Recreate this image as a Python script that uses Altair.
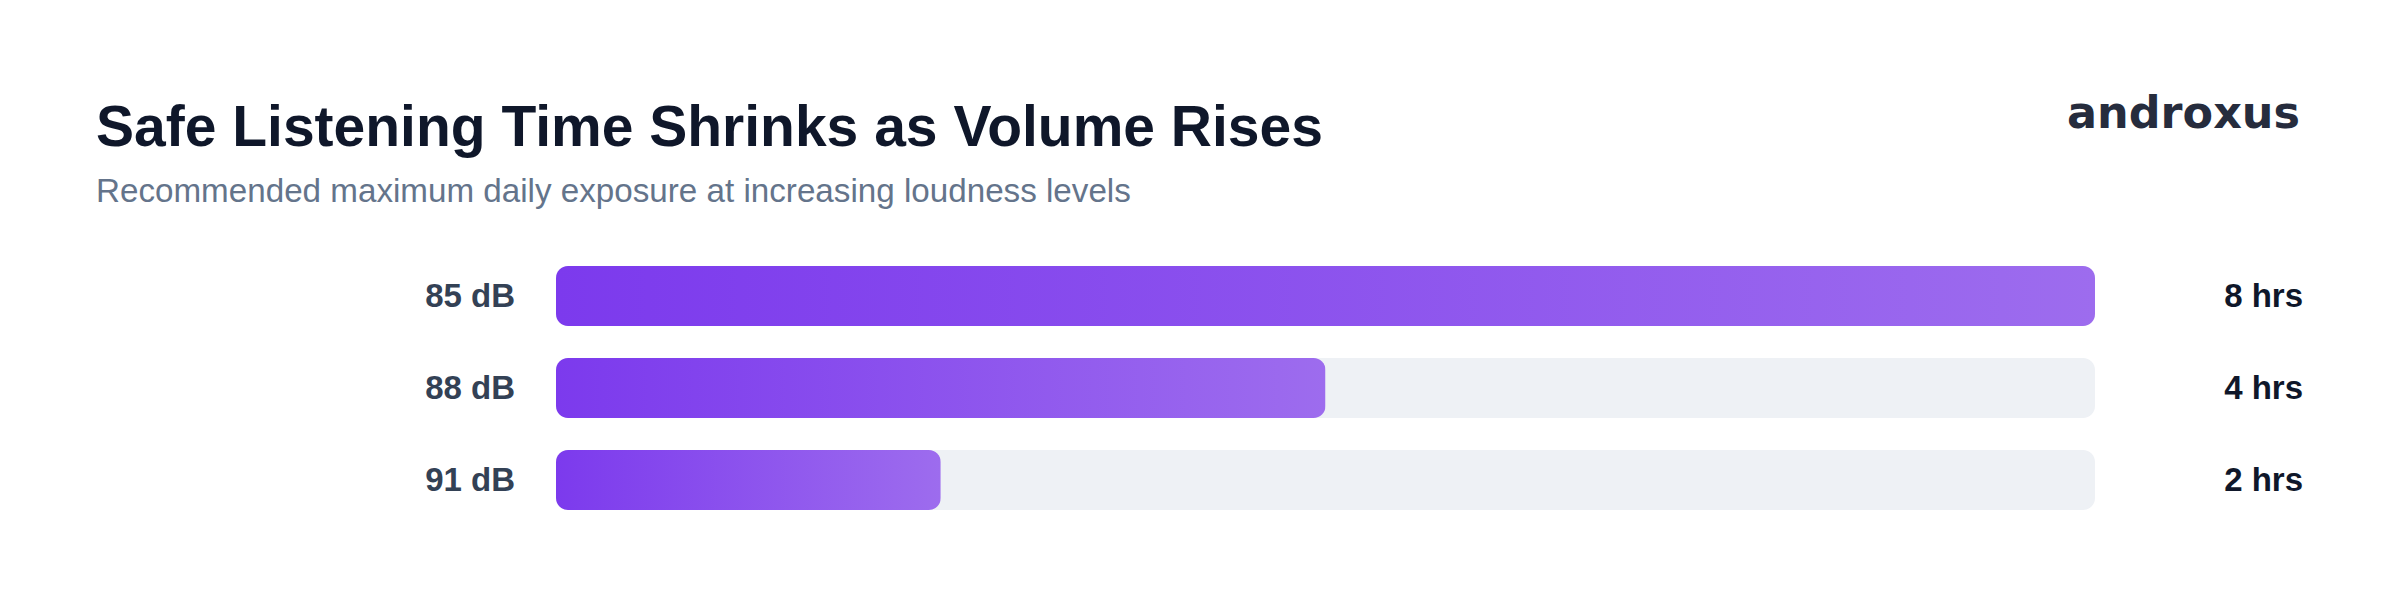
import altair as alt
import pandas as pd

# ---- data ----
levels = ["85 dB", "88 dB", "91 dB"]
hours = [8, 4, 2]
hour_labels = ["8 hrs", "4 hrs", "2 hrs"]

title_text = "Safe Listening Time Shrinks as Volume Rises"
subtitle_text = "Recommended maximum daily exposure at increasing loudness levels"
brand_text = "androxus"

df = pd.DataFrame({"level": levels, "hours": hours, "label": hour_labels})
df["track"] = max(hours)

W, H = 2400, 606
x_scale = alt.Scale(domain=[0, max(hours)], range=[556, 2095], nice=False, zero=True)
y_scale = alt.Scale(domain=levels, range=[266, 510], paddingInner=0.348, paddingOuter=0)

base = alt.Chart(df)

track = base.mark_bar(color="#eef1f5", cornerRadius=12).encode(
    x=alt.X("track:Q", scale=x_scale, axis=None),
    y=alt.Y("level:N", scale=y_scale, axis=None),
)

grad = alt.Gradient(
    gradient="linear",
    stops=[alt.GradientStop(color="#7c3aed", offset=0),
           alt.GradientStop(color="#9d6cee", offset=1)],
    x1=0, x2=1, y1=0, y2=0,
)

bars = base.mark_bar(color=grad, cornerRadius=12).encode(
    x=alt.X("hours:Q", scale=x_scale, axis=None),
    y=alt.Y("level:N", scale=y_scale, axis=None),
)

level_labels = base.mark_text(
    align="right", baseline="middle", font="Liberation Sans", fontWeight="bold",
    fontSize=33, color="#334155", dy=1,
).encode(
    x=alt.value(515),
    y=alt.Y("level:N", scale=y_scale, axis=None),
    text="level:N",
)

value_labels = base.mark_text(
    align="right", baseline="middle", font="Liberation Sans", fontWeight="bold",
    fontSize=33, color="#0f172a", dy=1,
).encode(
    x=alt.value(2303),
    y=alt.Y("level:N", scale=y_scale, axis=None),
    text="label:N",
)

one = pd.DataFrame({"t": [title_text], "s": [subtitle_text], "b": [brand_text]})

title = alt.Chart(one).mark_text(
    align="left", baseline="alphabetic", font="Liberation Sans", fontWeight="bold",
    fontSize=57, color="#0f172a",
).encode(x=alt.value(96), y=alt.value(146), text="t:N")

subtitle = alt.Chart(one).mark_text(
    align="left", baseline="alphabetic", font="Liberation Sans",
    fontSize=33.2, color="#64748b",
).encode(x=alt.value(96), y=alt.value(202), text="s:N")

brand = alt.Chart(one).mark_text(
    align="right", baseline="alphabetic", font="DejaVu Sans", fontWeight="bold",
    fontSize=44.5, color="#262c3d",
).encode(x=alt.value(2300), y=alt.value(128), text="b:N")

chart = alt.layer(track, bars, level_labels, value_labels, title, subtitle, brand).properties(
    width=W, height=H,
    autosize=alt.AutoSizeParams(type="none"),
    padding=0,
    background="#ffffff",
).configure_view(stroke=None)

chart.save("out.html", embed_options={"renderer": "svg", "actions": False})
